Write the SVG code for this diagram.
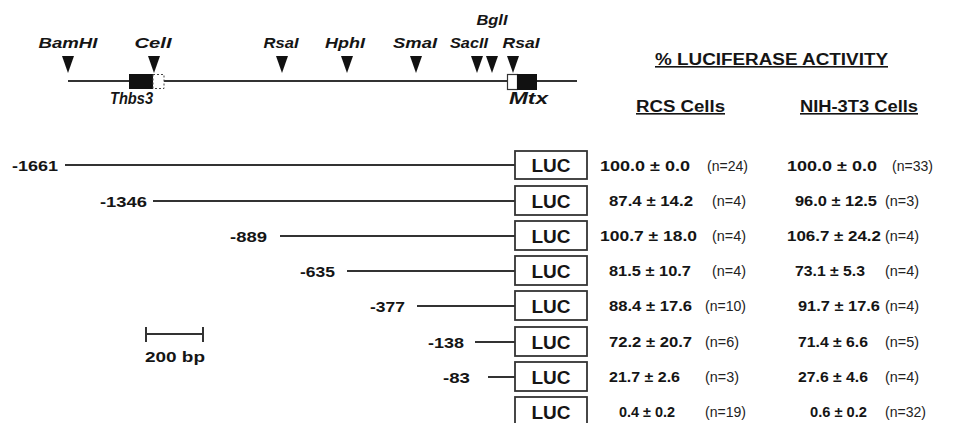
<svg xmlns="http://www.w3.org/2000/svg" width="955" height="423" viewBox="0 0 955 423">
<style>
text{font-family:"Liberation Sans",Arial,sans-serif;fill:#151515}
.re{font-size:15px;font-weight:bold;font-style:italic;text-anchor:middle}
.gene{font-size:17px;font-weight:bold;font-style:italic}
.hd{font-size:16px;font-weight:bold;text-decoration:underline}
.lbl{font-size:15px;font-weight:bold;text-anchor:end}
.val{font-size:15px;font-weight:bold}
.n{font-size:15.5px;fill:#222}
.luc{font-size:19px;font-weight:bold;text-anchor:middle}
.ln{stroke:#333;stroke-width:2;fill:none}
.box{fill:#fff;stroke:#333;stroke-width:1.8}
.tri{fill:#111}
</style>
<defs>
<polygon id="tri" class="tri" points="-6,0 6,0 0,17"/>
</defs>
<g id="map">
<line class="ln" x1="68" y1="81" x2="577" y2="81"/>
<rect x="129" y="74" width="24" height="15" fill="#111"/>
<rect x="153" y="74.5" width="11" height="14" fill="#fff" stroke="#444" stroke-width="1" stroke-dasharray="2,2"/>
<rect x="507.5" y="74.5" width="10" height="15" fill="#fff" stroke="#333" stroke-width="1.2"/>
<rect x="517" y="74" width="20" height="16" fill="#111"/>
<use href="#tri" x="68" y="56"/>
<use href="#tri" x="154" y="56"/>
<use href="#tri" x="282" y="56"/>
<use href="#tri" x="347" y="56"/>
<use href="#tri" x="416" y="56"/>
<use href="#tri" x="477" y="56"/>
<use href="#tri" x="492" y="56"/>
<use href="#tri" x="513" y="56"/>
<text class="re" x="68" y="48" textLength="59" lengthAdjust="spacingAndGlyphs">BamHI</text>
<text class="re" x="153" y="48" textLength="37" lengthAdjust="spacingAndGlyphs">CelI</text>
<text class="re" x="281" y="48" textLength="35" lengthAdjust="spacingAndGlyphs">RsaI</text>
<text class="re" x="345" y="48" textLength="40" lengthAdjust="spacingAndGlyphs">HphI</text>
<text class="re" x="415" y="48" textLength="44" lengthAdjust="spacingAndGlyphs">SmaI</text>
<text class="re" x="469" y="48" textLength="38" lengthAdjust="spacingAndGlyphs">SacII</text>
<text class="re" x="492" y="25" textLength="31" lengthAdjust="spacingAndGlyphs">BglI</text>
<text class="re" x="521" y="48" textLength="37" lengthAdjust="spacingAndGlyphs">RsaI</text>
<text class="gene" x="110" y="104" textLength="43" lengthAdjust="spacingAndGlyphs">Thbs3</text>
<text class="gene" x="509" y="104" textLength="39" lengthAdjust="spacingAndGlyphs">Mtx</text>
</g>
<g id="headers">
<text class="hd" x="655" y="65" textLength="233" lengthAdjust="spacingAndGlyphs">% LUCIFERASE ACTIVITY</text>
<text class="hd" x="636" y="112" textLength="89" lengthAdjust="spacingAndGlyphs">RCS Cells</text>
<text class="hd" x="800" y="112" textLength="118" lengthAdjust="spacingAndGlyphs">NIH-3T3 Cells</text>
</g>
<g id="connectors">
<line class="ln" x1="65" y1="165" x2="515" y2="165"/>
<line class="ln" x1="153" y1="201" x2="515" y2="201"/>
<line class="ln" x1="280" y1="236" x2="515" y2="236"/>
<line class="ln" x1="347" y1="271" x2="515" y2="271"/>
<line class="ln" x1="417" y1="306" x2="515" y2="306"/>
<line class="ln" x1="475" y1="342" x2="515" y2="342"/>
<line class="ln" x1="488" y1="377" x2="515" y2="377"/>
</g>
<g id="labels">
<text class="lbl" x="58" y="171" textLength="46" lengthAdjust="spacingAndGlyphs">-1661</text>
<text class="lbl" x="147" y="207" textLength="47" lengthAdjust="spacingAndGlyphs">-1346</text>
<text class="lbl" x="267" y="242" textLength="37" lengthAdjust="spacingAndGlyphs">-889</text>
<text class="lbl" x="335" y="277" textLength="35" lengthAdjust="spacingAndGlyphs">-635</text>
<text class="lbl" x="405" y="312" textLength="35" lengthAdjust="spacingAndGlyphs">-377</text>
<text class="lbl" x="464" y="348" textLength="36" lengthAdjust="spacingAndGlyphs">-138</text>
<text class="lbl" x="470" y="383" textLength="27" lengthAdjust="spacingAndGlyphs">-83</text>
</g>
<g id="luc-boxes">
<g id="luc1"><rect class="box" x="515" y="151" width="72" height="28"/><text class="luc" x="551" y="172">LUC</text></g>
<g id="luc2"><rect class="box" x="515" y="186" width="72" height="29"/><text class="luc" x="551" y="208">LUC</text></g>
<g id="luc3"><rect class="box" x="515" y="221" width="72" height="29"/><text class="luc" x="551" y="243">LUC</text></g>
<g id="luc4"><rect class="box" x="515" y="256" width="72" height="29"/><text class="luc" x="551" y="278">LUC</text></g>
<g id="luc5"><rect class="box" x="515" y="291" width="72" height="29"/><text class="luc" x="551" y="313">LUC</text></g>
<g id="luc6"><rect class="box" x="515" y="327" width="72" height="29"/><text class="luc" x="551" y="349">LUC</text></g>
<g id="luc7"><rect class="box" x="515" y="362" width="72" height="29"/><text class="luc" x="551" y="384">LUC</text></g>
<g id="luc8"><rect class="box" x="515" y="397" width="72" height="29"/><text class="luc" x="551" y="419">LUC</text></g>
</g>
<g id="rcs-values">
<text class="val" x="600" y="171" textLength="90" lengthAdjust="spacingAndGlyphs">100.0 ± 0.0</text>
<text class="val" x="609" y="206" textLength="84" lengthAdjust="spacingAndGlyphs">87.4 ± 14.2</text>
<text class="val" x="600" y="241" textLength="97" lengthAdjust="spacingAndGlyphs">100.7 ± 18.0</text>
<text class="val" x="609" y="276" textLength="82" lengthAdjust="spacingAndGlyphs">81.5 ± 10.7</text>
<text class="val" x="609" y="311" textLength="83" lengthAdjust="spacingAndGlyphs">88.4 ± 17.6</text>
<text class="val" x="609" y="347" textLength="83" lengthAdjust="spacingAndGlyphs">72.2 ± 20.7</text>
<text class="val" x="609" y="382" textLength="71" lengthAdjust="spacingAndGlyphs">21.7 ± 2.6</text>
<text class="val" x="619" y="417" textLength="56" lengthAdjust="spacingAndGlyphs">0.4 ± 0.2</text>
<text class="n" x="707" y="171" textLength="41" lengthAdjust="spacingAndGlyphs">(n=24)</text>
<text class="n" x="712" y="206" textLength="34" lengthAdjust="spacingAndGlyphs">(n=4)</text>
<text class="n" x="712" y="241" textLength="34" lengthAdjust="spacingAndGlyphs">(n=4)</text>
<text class="n" x="712" y="276" textLength="34" lengthAdjust="spacingAndGlyphs">(n=4)</text>
<text class="n" x="705" y="311" textLength="41" lengthAdjust="spacingAndGlyphs">(n=10)</text>
<text class="n" x="705" y="347" textLength="34" lengthAdjust="spacingAndGlyphs">(n=6)</text>
<text class="n" x="705" y="382" textLength="34" lengthAdjust="spacingAndGlyphs">(n=3)</text>
<text class="n" x="705" y="417" textLength="41" lengthAdjust="spacingAndGlyphs">(n=19)</text>
</g>
<g id="nih-values">
<text class="val" x="787" y="171" textLength="90" lengthAdjust="spacingAndGlyphs">100.0 ± 0.0</text>
<text class="val" x="795" y="206" textLength="82" lengthAdjust="spacingAndGlyphs">96.0 ± 12.5</text>
<text class="val" x="787" y="241" textLength="94" lengthAdjust="spacingAndGlyphs">106.7 ± 24.2</text>
<text class="val" x="795" y="276" textLength="70" lengthAdjust="spacingAndGlyphs">73.1 ± 5.3</text>
<text class="val" x="798" y="311" textLength="82" lengthAdjust="spacingAndGlyphs">91.7 ± 17.6</text>
<text class="val" x="798" y="347" textLength="70" lengthAdjust="spacingAndGlyphs">71.4 ± 6.6</text>
<text class="val" x="798" y="382" textLength="70" lengthAdjust="spacingAndGlyphs">27.6 ± 4.6</text>
<text class="val" x="810" y="417" textLength="57" lengthAdjust="spacingAndGlyphs">0.6 ± 0.2</text>
<text class="n" x="892" y="171" textLength="41" lengthAdjust="spacingAndGlyphs">(n=33)</text>
<text class="n" x="885" y="206" textLength="34" lengthAdjust="spacingAndGlyphs">(n=3)</text>
<text class="n" x="885" y="241" textLength="34" lengthAdjust="spacingAndGlyphs">(n=4)</text>
<text class="n" x="885" y="276" textLength="34" lengthAdjust="spacingAndGlyphs">(n=4)</text>
<text class="n" x="885" y="311" textLength="34" lengthAdjust="spacingAndGlyphs">(n=4)</text>
<text class="n" x="885" y="347" textLength="34" lengthAdjust="spacingAndGlyphs">(n=5)</text>
<text class="n" x="885" y="382" textLength="34" lengthAdjust="spacingAndGlyphs">(n=4)</text>
<text class="n" x="885" y="417" textLength="41" lengthAdjust="spacingAndGlyphs">(n=32)</text>
</g>
<g id="scale-bar">
<line class="ln" x1="146" y1="334" x2="203" y2="334"/>
<line class="ln" x1="146" y1="327" x2="146" y2="342"/>
<line class="ln" x1="203" y1="327" x2="203" y2="342"/>
<text x="145" y="362" font-size="15" font-weight="bold" textLength="60" lengthAdjust="spacingAndGlyphs">200 bp</text>
</g>
</svg>
